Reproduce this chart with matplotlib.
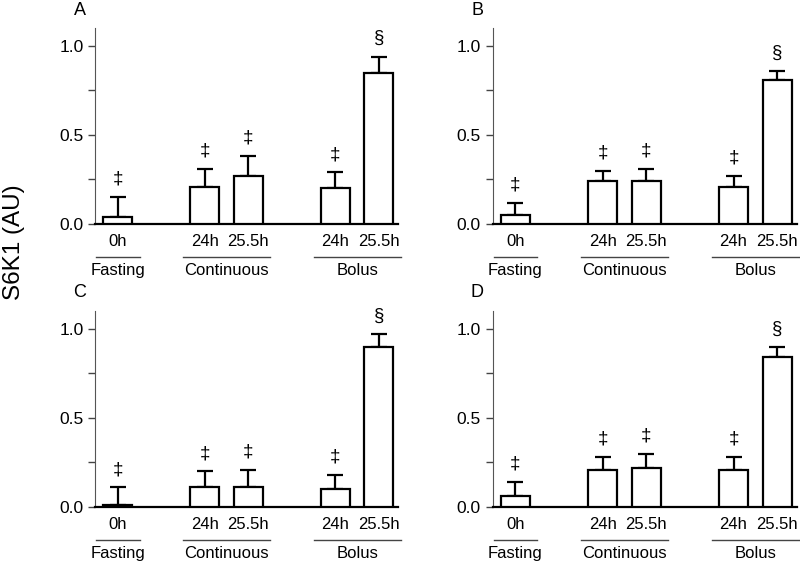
import matplotlib
matplotlib.use("Agg")
import matplotlib.pyplot as plt
from matplotlib.ticker import MultipleLocator

plt.rcParams['font.family'] = ['Liberation Sans', 'DejaVu Sans']

# bar positions and labels
positions = [0, 2, 3, 5, 6]
time_labels = ["0h", "24h", "25.5h", "24h", "25.5h"]
groups = ["Fasting", "Continuous", "Bolus"]
group_spans = [(0, 0), (2, 3), (5, 6)]
marks = ["\u2021", "\u2021", "\u2021", "\u2021", "\u00a7"]

panels = ["A", "B", "C", "D"]
means_a = [0.04, 0.21, 0.27, 0.20, 0.85]
errs_a = [0.11, 0.10, 0.11, 0.09, 0.09]
means_b = [0.05, 0.24, 0.24, 0.21, 0.81]
errs_b = [0.07, 0.06, 0.07, 0.06, 0.05]
means_c = [0.01, 0.11, 0.11, 0.10, 0.90]
errs_c = [0.10, 0.09, 0.10, 0.08, 0.07]
means_d = [0.06, 0.21, 0.22, 0.21, 0.84]
errs_d = [0.08, 0.07, 0.08, 0.07, 0.06]

means = [means_a, means_b, means_c, means_d]
errs = [errs_a, errs_b, errs_c, errs_d]

fig = plt.figure(figsize=(8, 5.61), dpi=100)
rects = [
    [0.119, 0.6007, 0.379, 0.3493],
    [0.616, 0.6007, 0.380, 0.3493],
    [0.119, 0.0963, 0.379, 0.3493],
    [0.616, 0.0963, 0.380, 0.3493],
]

for i in range(4):
    ax = fig.add_axes(rects[i])
    ax.bar(positions, means[i], width=0.67, color="white", edgecolor="black",
           linewidth=1.6, zorder=3)
    ax.errorbar(positions, means[i], yerr=[[0] * 5, errs[i]], fmt="none",
                ecolor="black", elinewidth=1.6, capsize=6, capthick=1.6, zorder=2)
    for x, m, e, s in zip(positions, means[i], errs[i], marks):
        ax.text(x, m + e + 0.1, s, ha="center", va="center", fontsize=13.5)

    ax.set_xlim(-0.52, 6.45)
    ax.set_ylim(0, 1.1)
    ax.yaxis.set_major_locator(MultipleLocator(0.5))
    ax.yaxis.set_minor_locator(MultipleLocator(0.25))
    ax.yaxis.set_major_formatter(lambda v, p: f"{v:.1f}")
    ax.tick_params(axis="y", which="both", direction="out", length=5, width=1,
                   color="#444444", labelsize=12.5)
    ax.set_xticks([])
    for sp in ["top", "right"]:
        ax.spines[sp].set_visible(False)
    ax.spines["left"].set_color("#555555")
    ax.spines["bottom"].set_linewidth(1.6)

    tr = ax.get_xaxis_transform()
    for x, lab in zip(positions, time_labels):
        ax.text(x, -0.087, lab, transform=tr, ha="center", va="center", fontsize=12)
    for g, (x0, x1) in zip(groups, group_spans):
        ax.plot([x0 - 0.5, x1 + 0.5], [-0.168, -0.168], transform=tr,
                color="#444444", linewidth=1, clip_on=False)
        ax.text((x0 + x1) / 2, -0.235, g, transform=tr, ha="center", va="center",
                fontsize=12)
    ax.text(-0.051, 1.092, panels[i], transform=ax.transAxes, ha="center",
            va="center", fontsize=13)

fig.text(0.0175, 0.569, "S6K1 (AU)", rotation=90, ha="center", va="center",
         fontsize=17.5)

fig.savefig("out.png", dpi=100)
